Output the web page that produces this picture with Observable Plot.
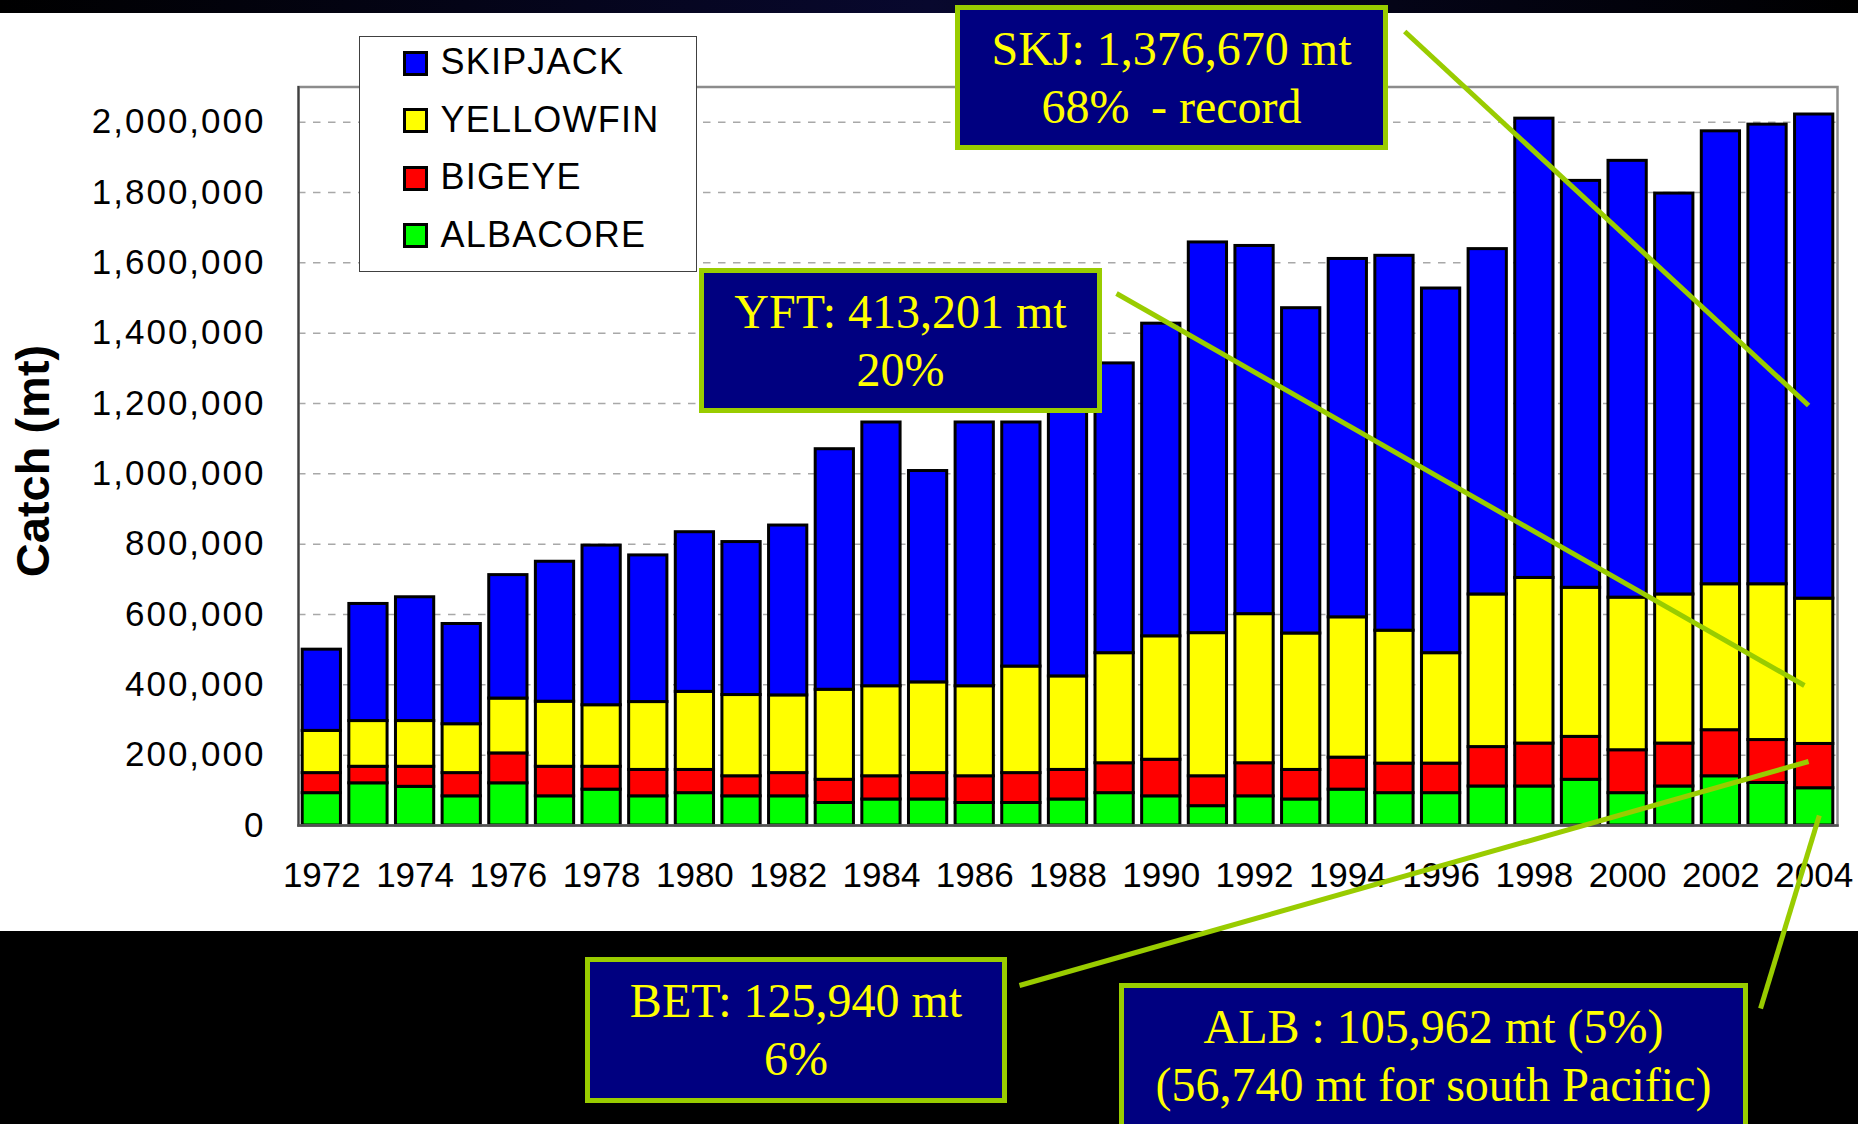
<!DOCTYPE html>
<html>
<head>
<meta charset="utf-8">
<script src="https://cdn.jsdelivr.net/npm/d3@7"></script>
<script src="https://cdn.jsdelivr.net/npm/@observablehq/plot@0.6"></script>
<style>
  html, body { margin: 0; padding: 0; background: #000; }
  #wrap { position: relative; width: 1858px; height: 1124px; overflow: hidden; background: #000;
          font-family: "Liberation Sans", Arial, sans-serif; }
  #topbar { position: absolute; left: 0; top: 0; width: 1858px; height: 13px;
            background: linear-gradient(to right, #000 0%, #08082e 50%, #000 100%); }
  #white { position: absolute; left: 0; top: 13px; width: 1858px; height: 918px; background: #fff; }
  .layer { position: absolute; left: 0; top: 0; }
  .box { position: absolute; box-sizing: border-box; background: #000080; border: 5.5px solid #99cc00;
         color: #ffff00; font-family: "Liberation Serif", "Times New Roman", serif; font-size: 48px;
         line-height: 58px; display: flex; flex-direction: column; justify-content: center;
         align-items: center; text-align: center; white-space: pre; }
  #legend { position: absolute; left: 359px; top: 36px; width: 338px; height: 236px; box-sizing: border-box;
            background: #fff; border: 1.5px solid #404040; }
  .sw { position: absolute; width: 25px; height: 25px; box-sizing: border-box; border: 3px solid #000; }
  .lt { position: absolute; font-size: 36px; line-height: 36px; letter-spacing: 1.2px; color: #000; white-space: nowrap; }
  #ytitle { position: absolute; left: 31.5px; top: 460.5px; transform: translate(-50%, -50%) rotate(-90deg);
            font-weight: bold; font-size: 47px; line-height: 47px; white-space: nowrap; color: #000; }
</style>
</head>
<body>
<div id="wrap">
  <div id="topbar"></div>
  <div id="white"></div>
  <div id="ytitle"></div>
</div>
<script>
// ---- data ----
const years = d3.range(1972, 2005);
const albacore  = [92000,120000,110000,83000,120000,83000,102000,83000,92000,83000,83000,
                   64000,74000,74000,64000,64000,74000,92000,83000,55000,83000,74000,
                   102000,92000,92000,111000,111000,130000,92000,111000,140000,121000,105962];
const bigeye    = [57000,47000,57000,66000,85000,84000,65000,75000,66000,57000,66000,
                   66000,66000,75000,76000,85000,84000,85000,104000,85000,94000,84000,
                   91000,84000,84000,112000,122000,122000,122000,122000,131000,122000,125940];
const yellowfin = [120000,130000,130000,139000,156000,185000,175000,193000,222000,231000,221000,
                   256000,256000,258000,256000,303000,266000,313000,351000,407000,424000,388000,
                   399000,378000,314000,434000,471000,424000,434000,424000,415000,443000,413201];
const skipjack  = [231000,333000,352000,285000,351000,398000,454000,417000,454000,435000,483000,
                   684000,750000,601000,750000,694000,806000,824000,889000,1111000,1047000,925000,
                   1019000,1066000,1037000,982000,1306000,1157000,1242000,1140000,1288000,1307000,1376670];
const stackOrder = ["ALBACORE", "BIGEYE", "YELLOWFIN", "SKIPJACK"];
const legendOrder = ["SKIPJACK", "YELLOWFIN", "BIGEYE", "ALBACORE"];
const speciesColors = {SKIPJACK: "#0000ff", YELLOWFIN: "#ffff00", BIGEYE: "#ff0000", ALBACORE: "#00ff00"};
const yTicks = d3.range(0, 2000001, 200000);
const xTicks = years.filter(y => y % 2 === 0);
const yTitle = "Catch (mt)";

// annotation texts
const noteSKJ = ["SKJ: 1,376,670 mt", "68% \u2009- record"];
const noteYFT = ["YFT: 413,201 mt", "20%"];
const noteBET = ["BET: 125,940 mt", "6%"];
const noteALB = ["ALB : 105,962 mt (5%)", "(56,740 mt for south Pacific)"];
// leader lines in data units (year, catch)
const leaderX1 = [1995.22, 1989.04, 1986.96, 2002.85];
const leaderY1 = [2257800, 1512800, -455000, -520400];
const leaderX2 = [2003.88, 2003.79, 2003.88, 2004.11];
const leaderY2 = [1194300, 398100, 182000, 28400];

// ---- table ----
const series = {ALBACORE: albacore, BIGEYE: bigeye, YELLOWFIN: yellowfin, SKIPJACK: skipjack};
const table = [];
years.forEach((yr, i) => stackOrder.forEach(s => table.push({year: yr, species: s, catch: series[s][i]})));
const leaders = leaderX1.map((x, i) => ({x1: x, y1: leaderY1[i], x2: leaderX2[i], y2: leaderY2[i]}));

// ---- layout ----
const W = 1858, H = 1124;
const M = {top: 86.5, right: 21, bottom: 299, left: 298};
const yDomain = [0, 2100000];

const wrap = document.getElementById("wrap");

const chart = Plot.plot({
  width: W, height: H,
  marginTop: M.top, marginRight: M.right, marginBottom: M.bottom, marginLeft: M.left,
  style: {background: "transparent", fontFamily: "'Liberation Sans', Arial, sans-serif", color: "#000", overflow: "visible"},
  x: {type: "band", domain: years, paddingInner: 0.18, paddingOuter: 0.09, round: false},
  y: {domain: yDomain},
  color: {domain: stackOrder, range: stackOrder.map(s => speciesColors[s])},
  marks: [
    Plot.gridY(yTicks.slice(1), {stroke: "#a8a8a8", strokeOpacity: 1, strokeWidth: 1.5, strokeDasharray: "7.5,7.5"}),
    Plot.barY(table, {x: "year", y: "catch", fill: "species", order: stackOrder,
                      stroke: "#000", strokeWidth: 3, inset: 0}),
    Plot.frame({stroke: "#8c8c8c", strokeWidth: 2.5}),
    Plot.frame({anchor: "left", stroke: "#404040", strokeWidth: 2}),
    Plot.frame({anchor: "bottom", stroke: "#505050", strokeWidth: 2.5}),
    Plot.axisX({ticks: xTicks, tickSize: 0, tickPadding: 37, fontSize: 35, label: null, tickFormat: d => String(d)}),
    Plot.axisY({ticks: yTicks, tickSize: 0, tickPadding: 33, fontSize: 35, label: null, tickFormat: d3.format(",")})
  ]
});
chart.classList.add("layer");
chart.querySelectorAll('[aria-label="y-axis tick label"] text').forEach(t => t.style.letterSpacing = "2px");
wrap.appendChild(chart);

const overlay = Plot.plot({
  width: W, height: H,
  marginTop: M.top, marginRight: M.right, marginBottom: M.bottom, marginLeft: M.left,
  style: {background: "transparent", overflow: "visible"},
  x: {domain: [1971.5, 2004.5], axis: null},
  y: {domain: yDomain, axis: null},
  marks: [
    Plot.link(leaders, {x1: "x1", y1: "y1", x2: "x2", y2: "y2", stroke: "#99cc00",
                        strokeWidth: 5, strokeLinecap: "butt"})
  ]
});
overlay.classList.add("layer");
wrap.appendChild(overlay);

// y title
document.getElementById("ytitle").textContent = yTitle;
wrap.appendChild(document.getElementById("ytitle"));

// annotation boxes (layout)
const boxLayout = [
  {text: noteSKJ, left: 955, top: 5, width: 433, height: 145},
  {text: noteYFT, left: 699, top: 268, width: 403, height: 145},
  {text: noteBET, left: 585, top: 957, width: 422, height: 146},
  {text: noteALB, left: 1119, top: 983, width: 629, height: 146}
];
boxLayout.forEach(b => {
  const d = document.createElement("div");
  d.className = "box";
  Object.assign(d.style, {left: b.left + "px", top: b.top + "px", width: b.width + "px", height: b.height + "px"});
  b.text.forEach(line => { const s = document.createElement("div"); s.textContent = line; d.appendChild(s); });
  wrap.appendChild(d);
});

// legend
const lg = document.createElement("div");
lg.id = "legend";
legendOrder.forEach((s, i) => {
  const sw = document.createElement("div");
  sw.className = "sw";
  sw.style.left = "42.5px";
  sw.style.top = (13.5 + 57.6 * i) + "px";
  sw.style.background = speciesColors[s];
  lg.appendChild(sw);
  const t = document.createElement("div");
  t.className = "lt";
  t.style.left = "80.5px";
  t.style.top = (7 + 57.7 * i) + "px";
  t.textContent = s;
  lg.appendChild(t);
});
wrap.appendChild(lg);
</script>
</body>
</html>
